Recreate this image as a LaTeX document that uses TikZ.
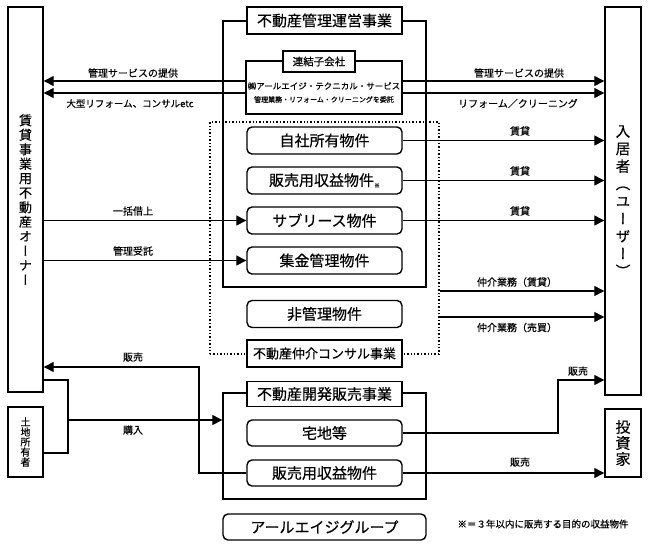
\documentclass[tikz,border=0pt]{standalone}
\usepackage{fontspec}
\setmainfont{Noto Sans CJK JP}[FakeBold=0.4]
\newfontfamily\vjp[RawFeature=+vert,FakeBold=0.4]{Noto Sans CJK JP}
\usetikzlibrary{arrows.meta}
\begin{document}
\begin{tikzpicture}[x=1pt,y=-1pt,
  hbox/.style={draw, line width=1.6pt, fill=white, minimum width=155pt, minimum height=27pt, inner sep=0pt, font=\fontsize{15}{15}\selectfont},
  rbox/.style={hbox, line width=1.4pt, rounded corners=5pt},
  frame/.style={draw, line width=1.4pt, inner sep=0pt},
  vbox/.style={draw, line width=1.4pt, fill=white, inner sep=0pt, align=center},
  ln/.style={line width=1.3pt},
  arr/.style={ln, -{Triangle[length=10pt,width=10pt]}},
  lbl/.style={inner sep=0pt, font=\fontsize{10}{10}\selectfont}
]
\useasboundingbox (0,0) rectangle (648,547);
% frames
\node[frame, minimum width=203pt, minimum height=266pt] (mframe) at (324.5,154) {};
\node[frame, dotted, line width=1.1pt, minimum width=229pt, minimum height=232pt] (dframe) at (324.5,238) {};
\node[frame, minimum width=203pt, minimum height=106pt] (devframe) at (324.5,446) {};
% side boxes
\node[vbox, minimum width=35pt, minimum height=385pt, font=\vjp\fontsize{13}{14.5}\selectfont] (owner) at (25.5,199.5) {賃\\貸\\事\\業\\用\\不\\動\\産\\オ\\ー\\ナ\\ー};
\node[vbox, minimum width=35pt, minimum height=70pt, font=\vjp\fontsize{10}{10}\selectfont] (land) at (25.5,442) {土\\地\\所\\有\\者};
\node[vbox, minimum width=36pt, minimum height=388pt, font=\vjp\fontsize{14.5}{17.5}\selectfont] (user) at (623,201) {入\\居\\者\\（\\ユ\\ー\\ザ\\ー\\）};
\node[vbox, minimum width=36pt, minimum height=68pt, font=\vjp\fontsize{15}{16}\selectfont] (investor) at (623,443) {投\\資\\家};
% management business
\node[hbox] (hdr1) at (324.5,20.5) {不動産管理運営事業};
\node[frame, fill=white, minimum width=156pt, minimum height=53pt] (subf) at (324,87.5) {};
\node[inner sep=0pt, font=\fontsize{8.5}{8.5}\selectfont] (subname) at (324,86) {㈱アールエイジ・テクニカル・サービス};
\node[inner sep=0pt, font=\fontsize{7}{7}\selectfont] (subdesc) at (324,99.5) {管理業務・リフォーム・クリーニングを委託};
\node[hbox, line width=1.4pt, minimum width=72pt, minimum height=21pt, font=\fontsize{10.5}{10.5}\selectfont] (subttl) at (319,61.5) {連結子会社};
\node[rbox] (b1) at (324.5,140.5) {自社所有物件};
\node[rbox] (b2) at (324.5,180.5) {販売用収益物件\raisebox{-2pt}{\fontsize{6}{6}\selectfont ※}};
\node[rbox] (b3) at (324.5,220.5) {サブリース物件};
\node[rbox] (b4) at (324.5,260.5) {集金管理物件};
\node[rbox] (b5) at (324.5,314) {非管理物件};
\node[hbox, font=\fontsize{13}{13}\selectfont] (hdr2) at (324.5,353.5) {不動産仲介コンサル事業};
% development
\node[hbox, minimum height=25pt] (hdr3) at (324.5,394) {不動産開発販売事業};
\node[rbox, minimum height=26pt] (d1) at (324.5,433) {宅地等};
\node[rbox, minimum height=26pt] (d2) at (324.5,473) {販売用収益物件};
% group
\node[rbox, minimum width=203pt, minimum height=26pt] (grp) at (324.5,527) {アールエイジグループ};
\node[inner sep=0pt, font=\fontsize{9.5}{9.5}\selectfont] (note) at (543,524) {※＝３年以内に販売する目的の収益物件};
% connectors: subsidiary services
\draw[arr] (subf.west |- 0,81) -- (owner.east |- 0,81);
\draw[arr] (subf.west |- 0,93) -- (owner.east |- 0,93);
\draw[arr] (subf.east |- 0,81) -- (user.west |- 0,81);
\draw[arr] (subf.east |- 0,93) -- (user.west |- 0,93);
\node[lbl] at (133,73) {管理サービスの提供};
\node[lbl, font=\fontsize{9.5}{9.5}\selectfont] at (130,103.5) {大型リフォーム、コンサルetc};
\node[lbl] at (519,73) {管理サービスの提供};
\node[lbl] at (518,103.5) {リフォーム／クリーニング};
% rental
\draw[arr] (b1.east) -- (user.west |- b1.east);
\draw[arr] (b2.east) -- (user.west |- b2.east);
\draw[arr] (b3.east) -- (user.west |- b3.east);
\node[lbl] at (520,131) {賃貸};
\node[lbl] at (520,171) {賃貸};
\node[lbl] at (520,211) {賃貸};
% owner to properties
\draw[arr] (owner.east |- b3.west) -- (b3.west);
\draw[arr] (owner.east |- b4.west) -- (b4.west);
\node[lbl] at (133,211) {一括借上};
\node[lbl] at (133,251) {管理受託};
% brokerage
\draw[arr] (dframe.east |- 0,291) -- (user.west |- 0,291);
\draw[arr] (dframe.east |- 0,317) -- (user.west |- 0,317);
\node[lbl] at (517,282) {仲介業務（賃貸）};
\node[lbl] at (517,327.5) {仲介業務（売買）};
% sales to owner
\coordinate (s1) at (199,473);
\coordinate (s2) at (199,367);
\draw[arr] (d2.west) -- (s1) -- (s2) -- (owner.east |- s2);
\node[lbl] at (133,357) {販売};
% purchase
\coordinate (p1) at (68,380);
\coordinate (p2) at (68,453);
\coordinate (pj) at (68,420);
\draw[ln] (owner.east |- p1) -- (p1) -- (p2) -- (land.east |- p2);
\draw[arr] (pj) -- (devframe.west |- pj);
\node[lbl] at (133,430) {購入};
% development sales
\coordinate (t1) at (558,433);
\coordinate (t2) at (558,380);
\draw[arr] (d1.east) -- (t1) -- (t2) -- (user.west |- t2);
\node[lbl] at (578,371) {販売};
\draw[arr] (d2.east) -- (investor.west |- d2.east);
\node[lbl] at (520,462) {販売};
\end{tikzpicture}
\end{document}
